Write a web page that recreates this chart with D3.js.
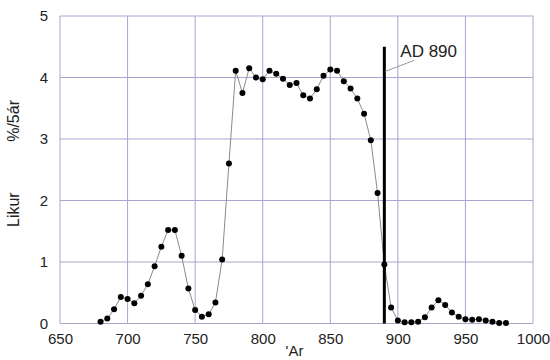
<!DOCTYPE html>
<html>
<head>
<meta charset="utf-8">
<script src="https://cdn.jsdelivr.net/npm/d3@7"></script>
<style>
  body { margin: 0; background: #fff; }
  svg { display: block; font-family: Arial, "Liberation Sans", sans-serif; }
</style>
</head>
<body>
<div id="chart"></div>
<script>
const WIDTH = 550;
const HEIGHT = 360;

// year (x) and probability %/5 years (y)
const years = [680, 685, 690, 695, 700, 705, 710, 715, 720, 725, 730, 735, 740, 745, 750, 755, 760, 765, 770, 775,
    780, 785, 790, 795, 800, 805, 810, 815, 820, 825, 830, 835, 840, 845, 850, 855, 860, 865, 870, 875,
    880, 885, 890, 895, 900, 905, 910, 915, 920, 925, 930, 935, 940, 945, 950, 955, 960, 965, 970, 975, 980];
const likur = [0.03, 0.08, 0.23, 0.43, 0.40, 0.33, 0.45, 0.64, 0.93, 1.25, 1.52, 1.52, 1.10, 0.57, 0.22, 0.11, 0.15, 0.34, 1.04, 2.60,
    4.11, 3.75, 4.15, 4.00, 3.97, 4.11, 4.06, 3.98, 3.88, 3.91, 3.71, 3.66, 3.81, 4.03, 4.13, 4.11, 3.94, 3.82, 3.66, 3.41,
    2.98, 2.12, 0.96, 0.26, 0.05, 0.02, 0.02, 0.03, 0.10, 0.26, 0.38, 0.30, 0.18, 0.11, 0.07, 0.06, 0.07, 0.05, 0.03, 0.01, 0.01];

const xTicks = [650, 700, 750, 800, 850, 900, 950, 1000];
const yTicks = [0, 1, 2, 3, 4, 5];

const markerYear = 890;
const markerTop = 4.5;
const markerLabel = "AD 890";

const margin = {left: 60, right: 17, top: 16, bottom: 36.5};

const svg = d3.select("#chart").append("svg")
    .attr("width", WIDTH)
    .attr("height", HEIGHT);

const x = d3.scaleLinear()
    .domain([650, 1000])
    .range([margin.left, WIDTH - margin.right]);

const y = d3.scaleLinear()
    .domain([0, 5])
    .range([HEIGHT - margin.bottom, margin.top]);

// grid
svg.append("g")
    .selectAll("line")
    .data(xTicks)
    .enter().append("line")
    .attr("x1", d => x(d)).attr("x2", d => x(d))
    .attr("y1", y(0)).attr("y2", y(5))
    .attr("stroke", "#a6a6d2")
    .attr("stroke-width", 1);

svg.append("g")
    .selectAll("line")
    .data(yTicks)
    .enter().append("line")
    .attr("x1", x(650)).attr("x2", x(1000))
    .attr("y1", d => y(d)).attr("y2", d => y(d))
    .attr("stroke", "#a6a6d2")
    .attr("stroke-width", 1);

// axes (labels only)
const xAxis = svg.append("g")
    .attr("transform", `translate(0,${y(0)})`)
    .call(d3.axisBottom(x).tickValues(xTicks).tickSize(0).tickPadding(10).tickFormat(d3.format("d")));
xAxis.select(".domain").remove();
xAxis.selectAll("text").attr("font-size", "15px").attr("fill", "#222").attr("font-family", "Arial, sans-serif");

const yAxis = svg.append("g")
    .attr("transform", `translate(${x(650)},0)`)
    .call(d3.axisLeft(y).tickValues(yTicks).tickSize(0).tickPadding(12).tickFormat(d3.format("d")));
yAxis.select(".domain").remove();
yAxis.selectAll("text").attr("font-size", "15px").attr("fill", "#222").attr("font-family", "Arial, sans-serif");

// axis titles
svg.append("text")
    .attr("x", (x(650) + x(1000)) / 2 - 2)
    .attr("y", 356)
    .attr("text-anchor", "middle")
    .attr("font-size", "15px")
    .attr("fill", "#222")
    .text("'Ar");

svg.append("text")
    .attr("transform", "translate(19,227) rotate(-90)")
    .attr("text-anchor", "start")
    .attr("font-size", "16px")
    .attr("fill", "#222")
    .text("Likur");

svg.append("text")
    .attr("transform", "translate(19,100) rotate(-90)")
    .attr("text-anchor", "end")
    .attr("font-size", "16px")
    .attr("fill", "#222")
    .text("%/5ár");

// series line
const line = d3.line()
    .x((d, i) => x(years[i]))
    .y(d => y(d));

svg.append("path")
    .datum(likur)
    .attr("fill", "none")
    .attr("stroke", "#8a8a8a")
    .attr("stroke-width", 1)
    .attr("d", line);

svg.append("g")
    .selectAll("circle")
    .data(likur)
    .enter().append("circle")
    .attr("cx", (d, i) => x(years[i]))
    .attr("cy", d => y(d))
    .attr("r", 3)
    .attr("fill", "#000");

// AD 890 marker
svg.append("line")
    .attr("x1", x(markerYear)).attr("x2", x(markerYear))
    .attr("y1", y(0)).attr("y2", y(markerTop))
    .attr("stroke", "#000")
    .attr("stroke-width", 3);

svg.append("line")
    .attr("x1", x(markerYear) + 1).attr("y1", y(4.1))
    .attr("x2", x(markerYear) + 30).attr("y2", y(4.28))
    .attr("stroke", "#999")
    .attr("stroke-width", 1);

svg.append("text")
    .attr("x", x(markerYear) + 16)
    .attr("y", 57)
    .attr("font-size", "17px")
    .attr("fill", "#222")
    .text(markerLabel);
</script>
</body>
</html>
